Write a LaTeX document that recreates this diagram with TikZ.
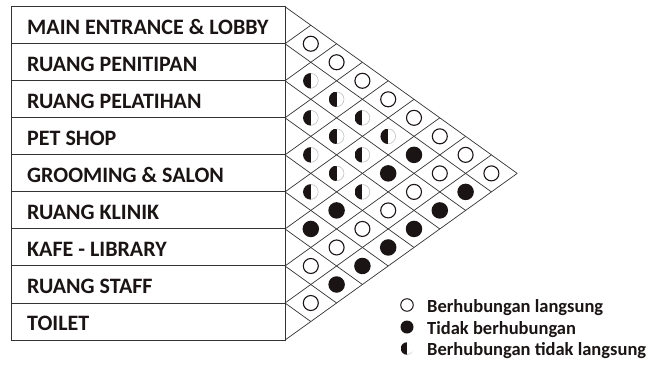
\documentclass[tikz,border=0pt]{standalone}
\usepackage{fontspec}
\setmainfont{Carlito}
\definecolor{ink}{HTML}{1A1414}
\definecolor{linec}{HTML}{333333}
\begin{document}
\begin{tikzpicture}[x=1pt,y=1pt]
\useasboundingbox (0,0) rectangle (658,-367);
\def\T{6.7}
\def\H{37.04}
\def\W{25.8}
\def\X{285}
\tikzset{
  gridline/.style={draw=linec, line width=0.7pt},
  boxline/.style={draw=linec, line width=1pt},
  lab/.style={anchor=base west, inner sep=0pt, text=ink, font=\fontsize{22}{24}\selectfont\bfseries},
  legtext/.style={anchor=base west, inner sep=0pt, text=ink, font=\fontsize{18.5}{21}\selectfont\bfseries},
  symO/.style={circle, draw=ink, line width=1.1pt, fill=white, minimum size=15pt, inner sep=0pt},
  symF/.style={circle, fill=ink, minimum size=16.5pt, inner sep=0pt},
  symH/.style={circle, minimum size=15.5pt, inner sep=0pt,
    path picture={
      \fill[ink] (path picture bounding box.south) rectangle (path picture bounding box.north west);
      \draw[gray!45, line width=1.4pt] (path picture bounding box.south) arc (-90:90:7.75pt);
    }},
}
% left table
\draw[boxline] (11.7,-\T) rectangle (\X,{-(\T+9*\H)});
\foreach \k in {1,...,8}{
  \draw[boxline] (11.7,{-(\T+\k*\H)}) -- (\X,{-(\T+\k*\H)});
}
% triangular grid
\foreach \k in {0,...,9}{
  \pgfmathsetmacro\yk{-(\T+\k*\H)}
  \draw[gridline] (\X,\yk) -- ++({(9-\k)*\W},{-(9-\k)*\H/2});
  \draw[gridline] (\X,\yk) -- ++({\k*\W},{\k*\H/2});
}
% labels
\foreach \i/\txt in {1/MAIN ENTRANCE \& LOBBY, 2/RUANG PENITIPAN, 3/RUANG PELATIHAN, 4/PET SHOP, 5/GROOMING \& SALON, 6/RUANG KLINIK, 7/KAFE - LIBRARY, 8/RUANG STAFF, 9/TOILET}{
  \node[lab] (r\i) at (27,{-(\T+\H*(\i-0.5)+9)}) {\txt};
}
% symbols
\foreach \i/\j/\t in {1/2/O,1/3/O,1/4/O,1/5/O,1/6/O,1/7/O,1/8/O,1/9/O,
  7/8/O,8/9/O,6/8/O,5/8/O,4/8/O,3/8/O,2/8/O,
  2/3/H,3/4/H,4/5/H,5/6/H,2/4/H,3/5/H,4/6/H,2/5/H,3/6/H,4/7/H,2/6/H,
  6/7/F,5/7/F,7/9/F,6/9/F,3/7/F,5/9/F,2/7/F,4/9/F,3/9/F,2/9/F}{
  \pgfmathsetmacro\sx{\X+(\j-\i)*\W}
  \pgfmathsetmacro\sy{-(\T+\H*(\i+\j-1)/2)}
  \node[sym\t] (s\i\j) at (\sx,\sy) {};
}
% legend
\node[symO, minimum size=12.5pt, line width=1pt] (lo) at (407,-305) {};
\node[symF, minimum size=13pt] (lf) at (407,-327) {};
\node[symH, minimum size=12.5pt] (lh) at (407,-348.5) {};
\node[legtext] (tlo) at (427,-312.7) {Berhubungan langsung};
\node[legtext] (tlf) at (427,-334.2) {Tidak berhubungan};
\node[legtext] (tlh) at (427,-355.8) {Berhubungan tidak langsung};
\end{tikzpicture}
\end{document}
